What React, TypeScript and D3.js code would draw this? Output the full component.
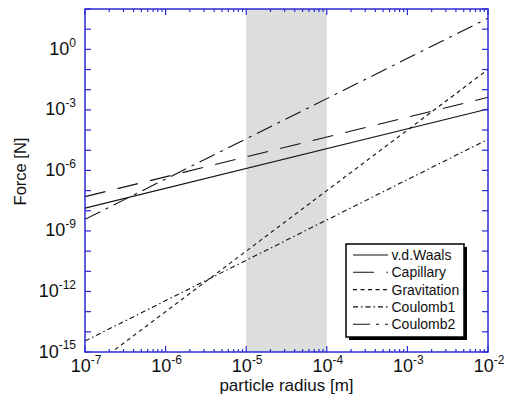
import { useEffect, useRef } from "react";
import * as d3 from "d3";

// particle radius range [m] and the force at each end [N] (straight lines in log-log)
const radiusRange = [1e-7, 1e-2];
const vdWaals = [1.35e-8, 1.1e-3];
const capillary = [5e-8, 4.2e-3];
const gravitation = [1e-16, 1e-1];
const coulomb1 = [3.5e-15, 3.5e-5];
const coulomb2 = [3.8e-9, 35];

const seriesNames = ["v.d.Waals", "Capillary", "Gravitation", "Coulomb1", "Coulomb2"];
const seriesValues = [vdWaals, capillary, gravitation, coulomb1, coulomb2];
const seriesDash = ["none", "21,12.5", "4,3.5", "5,3,1.5,3", "17,6,3,6"];

// shaded band of radius
const shadedRange = [1e-5, 1e-4];

const xTickExponents = [-7, -6, -5, -4, -3, -2];
const yTickExponents = [-15, -12, -9, -6, -3, 0];
const yDomain = [1e-15, 1e2];

const W = 506;
const H = 403;
const FONT = "'Liberation Sans', Arial, Helvetica, sans-serif";
const AXIS = "#2b2bd6";

function ForceChart() {
  const svgRef = useRef<SVGSVGElement | null>(null);

  useEffect(() => {
    const margin = { top: 9, right: 18, bottom: 51, left: 85 };
    const width = W - margin.left - margin.right;
    const height = H - margin.top - margin.bottom;

    const root = d3.select(svgRef.current);
    root.selectAll("*").remove();
    const svg = root.append("g").attr("transform", `translate(${margin.left},${margin.top})`);

    const x = d3.scaleLog().domain(radiusRange).range([0, width]);
    const y = d3.scaleLog().domain(yDomain).range([height, 0]);

    svg.append("clipPath").attr("id", "plotClip")
      .append("rect").attr("width", width).attr("height", height);

    // grey band
    svg.append("rect")
      .attr("x", x(shadedRange[0]))
      .attr("y", 0)
      .attr("width", x(shadedRange[1]) - x(shadedRange[0]))
      .attr("height", height)
      .attr("fill", "#dcdddd");

    // force lines
    const line = d3.line<[number, number]>()
      .x((d) => x(d[0]))
      .y((d) => y(d[1]));

    const plot = svg.append("g").attr("clip-path", "url(#plotClip)");
    seriesValues.forEach((vals, i) => {
      const pts: [number, number][] = radiusRange.map((r, j) => [r, vals[j]]);
      plot.append("path")
        .attr("d", line(pts))
        .attr("fill", "none")
        .attr("stroke", "#111")
        .attr("stroke-width", 1.1)
        .attr("stroke-dasharray", seriesDash[i]);
    });

    // ticks (inward on all four sides)
    const ticks = svg.append("g").attr("stroke", AXIS).attr("stroke-width", 1.2);
    const xMinor: number[] = [];
    for (let e = -7; e < -2; e++) {
      for (let m = 2; m <= 9; m++) xMinor.push(m * Math.pow(10, e));
    }
    xTickExponents.forEach((e) => {
      const px = x(Math.pow(10, e));
      ticks.append("line").attr("x1", px).attr("x2", px).attr("y1", height).attr("y2", height - 6);
      ticks.append("line").attr("x1", px).attr("x2", px).attr("y1", 0).attr("y2", 6);
    });
    xMinor.forEach((v) => {
      const px = x(v);
      ticks.append("line").attr("x1", px).attr("x2", px).attr("y1", height).attr("y2", height - 3);
      ticks.append("line").attr("x1", px).attr("x2", px).attr("y1", 0).attr("y2", 3);
    });
    d3.range(-15, 3).forEach((e) => {
      const py = y(Math.pow(10, e));
      ticks.append("line").attr("x1", 0).attr("x2", 6).attr("y1", py).attr("y2", py);
      ticks.append("line").attr("x1", width).attr("x2", width - 6).attr("y1", py).attr("y2", py);
    });

    // frame
    svg.append("rect")
      .attr("width", width)
      .attr("height", height)
      .attr("fill", "none")
      .attr("stroke", AXIS)
      .attr("stroke-width", 1.5);

    // tick labels
    xTickExponents.forEach((e) => {
      const t = svg.append("text")
        .attr("x", x(Math.pow(10, e)) + 1)
        .attr("y", height + 19.5)
        .attr("text-anchor", "middle")
        .style("font-family", FONT)
        .style("font-size", "18px")
        .attr("fill", "#111");
      t.append("tspan").text("10");
      t.append("tspan").attr("dy", -7.5).style("font-size", "12px").text(String(e));
    });
    yTickExponents.forEach((e) => {
      const t = svg.append("text")
        .attr("x", -9)
        .attr("y", y(Math.pow(10, e)) + 5.5)
        .attr("text-anchor", "end")
        .style("font-family", FONT)
        .style("font-size", "18px")
        .attr("fill", "#111");
      t.append("tspan").text("10");
      t.append("tspan").attr("dy", -8.3).style("font-size", "12px").text(String(e));
    });

    // axis titles
    svg.append("text")
      .attr("x", width / 2)
      .attr("y", height + 39)
      .attr("text-anchor", "middle")
      .style("font-family", FONT)
      .style("font-size", "17px")
      .attr("fill", "#111")
      .text("particle radius [m]");

    svg.append("text")
      .attr("transform", `translate(${26 - margin.left},${171.5 - margin.top}) rotate(-90)`)
      .attr("text-anchor", "middle")
      .style("font-family", FONT)
      .style("font-size", "16.5px")
      .attr("fill", "#111")
      .text("Force [N]");

    // legend
    const lg = root.append("g").attr("transform", "translate(346,244)");
    lg.append("rect").attr("x", 3).attr("y", 3).attr("width", 118).attr("height", 93).attr("fill", "#000");
    lg.append("rect").attr("width", 118).attr("height", 93).attr("fill", "#fff")
      .attr("stroke", "#000").attr("stroke-width", 1.5);
    seriesNames.forEach((name, i) => {
      const cy = 11 + i * 17.3;
      lg.append("line")
        .attr("x1", 7).attr("x2", 42).attr("y1", cy).attr("y2", cy)
        .attr("stroke", "#111").attr("stroke-width", 1.1)
        .attr("stroke-dasharray", seriesDash[i]);
      lg.append("text")
        .attr("x", 45.5).attr("y", cy + 5)
        .style("font-family", FONT)
        .style("font-size", "14px")
        .attr("fill", "#111")
        .text(name);
    });
  }, []);

  return (
    <svg
      ref={svgRef}
      width={W}
      height={H}
      style={{ position: "absolute", left: 0, top: 0, background: "#fff" }}
    />
  );
}

export default function App() {
  return <ForceChart />;
}
